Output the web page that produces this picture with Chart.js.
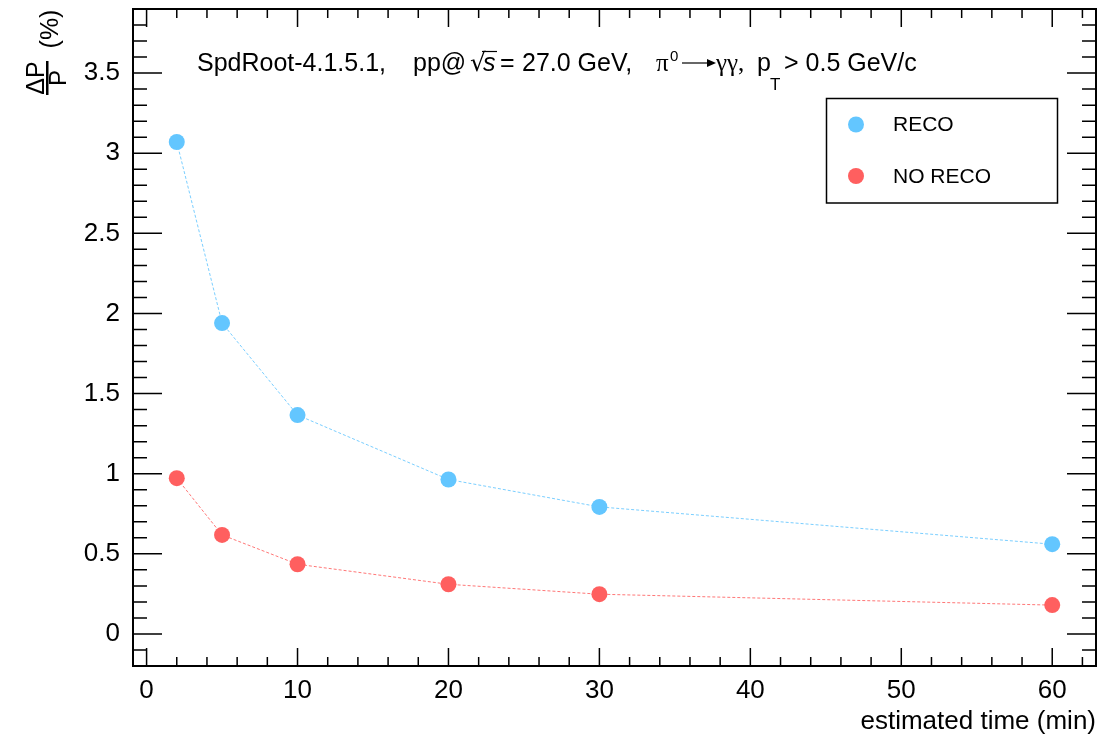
<!DOCTYPE html>
<html>
<head>
<meta charset="utf-8">
<script src="https://cdn.jsdelivr.net/npm/chart.js@4"></script>
<style>
html, body { margin: 0; padding: 0; background: #fff; }
#wrap { width: 1113px; height: 737px; position: relative; }
</style>
</head>
<body>
<div id="wrap"><canvas id="chart"></canvas></div>
<script>
// data
const times = [2, 5, 10, 20, 30, 60];
const recoValues = [3.07, 1.94, 1.366, 0.964, 0.793, 0.56];
const noRecoValues = [0.972, 0.618, 0.435, 0.31, 0.248, 0.18];
const seriesLabels = ['RECO', 'NO RECO'];
const xTickValues = [0, 10, 20, 30, 40, 50, 60];
const yTickValues = [0, 0.5, 1, 1.5, 2, 2.5, 3, 3.5];

const BLUE = '#63c6ff';
const RED = '#ff5f5f';
const SANS = '"Liberation Sans", Arial, sans-serif';

function toPoints(values) {
    return times.map((t, i) => ({ x: t, y: values[i] }));
}

function put(ctx, text, x, y, font) {
    ctx.font = font;
    ctx.fillText(text, x, y);
}

// ROOT style frame with ticks on all four sides
const framePlugin = {
    id: 'rootFrame',
    afterDatasetsDraw(chart) {
        const ctx = chart.ctx;
        const { left, right, top, bottom } = chart.chartArea;
        const xs = chart.scales.x;
        const ys = chart.scales.y;
        ctx.save();
        ctx.strokeStyle = '#000';
        ctx.lineWidth = 1.5;
        ctx.beginPath();
        for (let v = 0; v <= 62; v += 2) {
            const px = xs.getPixelForValue(v);
            const len = v % 10 === 0 ? 18 : 9;
            ctx.moveTo(px, bottom); ctx.lineTo(px, bottom - len);
            ctx.moveTo(px, top); ctx.lineTo(px, top + len);
        }
        for (let i = -2; i <= 38; i++) {
            const py = ys.getPixelForValue(i / 10);
            const len = i % 5 === 0 ? 29 : 14;
            ctx.moveTo(left, py); ctx.lineTo(left + len, py);
            ctx.moveTo(right, py); ctx.lineTo(right - len, py);
        }
        ctx.stroke();
        ctx.lineWidth = 2;
        ctx.strokeRect(left, top, right - left, bottom - top);
        ctx.restore();
    },
    afterDraw(chart) {
        const ctx = chart.ctx;
        ctx.save();
        ctx.fillStyle = '#000';
        ctx.strokeStyle = '#000';
        ctx.textAlign = 'left';
        ctx.textBaseline = 'alphabetic';

        // header text
        const base = 71;
        const f = '25px ' + SANS;
        put(ctx, 'SpdRoot-4.1.5.1,', 197, base, f);
        put(ctx, 'pp@', 413, base, f);
        put(ctx, '\u221A', 470, base, '25px "DejaVu Sans"');
        put(ctx, 's', 483, base, 'italic 25px ' + SANS);
        ctx.lineWidth = 1.2;
        ctx.beginPath(); ctx.moveTo(482, 51.5); ctx.lineTo(497, 51.5); ctx.stroke();
        put(ctx, '=', 500, base, f);
        put(ctx, '27.0 GeV,', 522, base, f);
        put(ctx, '\u03C0', 656, base, '25px "Liberation Serif"');
        put(ctx, '0', 670, base - 10, '15px ' + SANS);
        ctx.beginPath(); ctx.moveTo(682, 63); ctx.lineTo(714, 63); ctx.stroke();
        ctx.beginPath(); ctx.moveTo(716, 63); ctx.lineTo(707, 59); ctx.lineTo(707, 67); ctx.closePath(); ctx.fill();
        put(ctx, '\u03B3\u03B3,', 716, base, '25px "Liberation Serif"');
        put(ctx, 'p', 757, base, f);
        put(ctx, 'T', 770, base + 19, '17px ' + SANS);
        put(ctx, '> 0.5 GeV/c', 784, base, f);

        // x axis title
        ctx.textAlign = 'right';
        put(ctx, 'estimated time (min)', chart.chartArea.right, 729, '26px ' + SANS);

        // y axis title: (ΔP / P) (%)
        ctx.translate(44, 78);
        ctx.rotate(-Math.PI / 2);
        ctx.textAlign = 'center';
        put(ctx, '\u0394P', 0, 0, '25px ' + SANS);
        ctx.fillRect(-17, 2, 34, 2.5);
        put(ctx, 'P', 0, 22, '24px ' + SANS);
        put(ctx, '(%)', 49, 14, '25px ' + SANS);
        ctx.restore();

        // legend box
        ctx.save();
        ctx.lineWidth = 1.5;
        ctx.strokeStyle = '#000';
        ctx.strokeRect(826.5, 98.5, 231, 104.5);
        const colors = [BLUE, RED];
        const rows = [124.5, 176];
        ctx.font = '21px ' + SANS;
        ctx.textBaseline = 'middle';
        seriesLabels.forEach((label, i) => {
            ctx.fillStyle = colors[i];
            ctx.beginPath();
            ctx.arc(856, rows[i], 8, 0, Math.PI * 2);
            ctx.fill();
            ctx.fillStyle = '#000';
            ctx.fillText(label, 893, rows[i] + 1);
        });
        ctx.restore();
    }
};

function createChart() {
    const ctx = document.getElementById('chart').getContext('2d');
    new Chart(ctx, {
        type: 'scatter',
        data: {
            datasets: [{
                label: seriesLabels[0],
                data: toPoints(recoValues),
                showLine: true,
                borderColor: 'rgba(99,198,255,0.85)',
                borderWidth: 1,
                borderDash: [3, 2],
                pointBackgroundColor: BLUE,
                pointBorderWidth: 0,
                pointRadius: 8
            }, {
                label: seriesLabels[1],
                data: toPoints(noRecoValues),
                showLine: true,
                borderColor: 'rgba(255,95,95,0.85)',
                borderWidth: 1,
                borderDash: [3, 2],
                pointBackgroundColor: RED,
                pointBorderWidth: 0,
                pointRadius: 8
            }]
        },
        options: {
            responsive: true,
            maintainAspectRatio: false,
            animation: false,
            devicePixelRatio: 1,
            layout: { padding: { top: 9, right: 17, left: 0, bottom: 0 } },
            plugins: {
                legend: { display: false },
                tooltip: { enabled: false }
            },
            scales: {
                x: {
                    type: 'linear',
                    min: -0.9,
                    max: 62.9,
                    grid: { display: false, drawTicks: false },
                    border: { display: false },
                    afterBuildTicks: scale => { scale.ticks = xTickValues.map(v => ({ value: v })); },
                    afterFit: scale => {
                        scale.height = 71;
                        scale.paddingLeft = 0;
                        scale.paddingRight = 0;
                    },
                    ticks: {
                        autoSkip: false,
                        maxRotation: 0,
                        padding: 9,
                        color: '#000',
                        font: { family: SANS, size: 26 },
                        callback: v => String(v)
                    }
                },
                y: {
                    type: 'linear',
                    min: -0.2,
                    max: 3.9,
                    grid: { display: false, drawTicks: false },
                    border: { display: false },
                    afterBuildTicks: scale => { scale.ticks = yTickValues.map(v => ({ value: v })); },
                    afterFit: scale => {
                        scale.width = 133;
                        scale.paddingTop = 0;
                        scale.paddingBottom = 0;
                    },
                    ticks: {
                        autoSkip: false,
                        padding: 13,
                        color: '#000',
                        font: { family: SANS, size: 26 },
                        callback: v => String(v)
                    }
                }
            }
        },
        plugins: [framePlugin]
    });
}

document.addEventListener('DOMContentLoaded', createChart);
</script>
</body>
</html>
